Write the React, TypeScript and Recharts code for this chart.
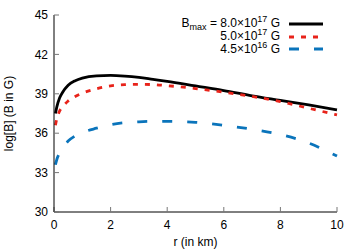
import { LineChart, Line, XAxis, YAxis, Legend, Label } from "recharts";

// radius in km
const radius = [0.05, 0.1, 0.2, 0.3, 0.5, 0.75, 1, 1.5, 2, 2.5, 3, 3.5, 4, 5, 6, 7, 8, 9, 10];

// log10 of field strength for each central B_max
const logB8e17 = [37.5, 38.0, 38.7, 39.1, 39.65, 40.0, 40.2, 40.37, 40.4, 40.35, 40.25, 40.1, 39.95, 39.6, 39.25, 38.85, 38.5, 38.15, 37.77];
const logB5e17 = [36.6, 37.1, 37.7, 38.0, 38.45, 38.8, 39.05, 39.38, 39.6, 39.7, 39.72, 39.7, 39.62, 39.4, 39.12, 38.8, 38.4, 37.9, 37.39];
const logB45e16 = [33.6, 34.0, 34.5, 34.85, 35.4, 35.8, 36.05, 36.38, 36.65, 36.8, 36.87, 36.9, 36.9, 36.83, 36.6, 36.3, 35.9, 35.25, 34.26];

const xTicks = [0, 2, 4, 6, 8, 10];
const yTicks = [30, 33, 36, 39, 42, 45];

const seriesMantissa = ["8.0", "5.0", "4.5"];
const seriesExponent = ["17", "17", "16"];
const seriesColor = ["#000000", "#e8231a", "#0a74bb"];
const seriesDash = ["", "5 7", "10 15"];

const data = radius.map((r, i) => ({
  r,
  a: logB8e17[i],
  b: logB5e17[i],
  c: logB45e16[i],
}));
const keys = ["a", "b", "c"];

const FONT = "'Liberation Sans', Arial, Helvetica, sans-serif";
const tickStyle = { fontSize: 12, fill: "#000", fontFamily: FONT };

function KeyBox() {
  return (
    <div style={{ fontFamily: FONT, fontSize: 12, color: "#000" }}>
      {seriesMantissa.map((m, i) => (
        <div key={i} style={{ display: "flex", alignItems: "center", height: 12.7 }}>
          <div style={{ width: 120, textAlign: "right", lineHeight: "12px", whiteSpace: "nowrap" }}>
            {i === 0 && (
              <>
                B
                <span style={{ fontSize: 9, position: "relative", top: 3 }}>max</span>
                {" = "}
              </>
            )}
            {m}×10
            <span style={{ fontSize: 9, position: "relative", top: -5 }}>{seriesExponent[i]}</span> G
          </div>
          <svg width={43} height={8} style={{ display: "block" }}>
            <line
              x1={9}
              x2={43}
              y1={4}
              y2={4}
              stroke={seriesColor[i]}
              strokeWidth={2.8}
              strokeDasharray={seriesDash[i] || undefined}
            />
          </svg>
        </div>
      ))}
    </div>
  );
}

export default function App() {
  return (
    <div style={{ position: "absolute", left: 0, top: 0, background: "#fff" }}>
      <LineChart width={360} height={252} data={data} margin={{ top: 15, right: 23, bottom: 0, left: 0 }}>
        <XAxis
          dataKey="r"
          type="number"
          domain={[0, 10]}
          ticks={xTicks}
          height={40}
          stroke="#000"
          tickSize={-5}
          tickMargin={13}
          tick={tickStyle}
          tickLine={{ stroke: "#777" }}
        >
          <Label
            content={(p: any) => (
              <text
                x={p.viewBox.x + p.viewBox.width / 2}
                y={p.viewBox.y + 34}
                textAnchor="middle"
                fontSize={12}
                fontFamily={FONT}
                fill="#000"
              >
                r (in km)
              </text>
            )}
          />
        </XAxis>
        <XAxis
          xAxisId="top"
          dataKey="r"
          type="number"
          orientation="top"
          domain={[0, 10]}
          ticks={xTicks}
          height={0}
          stroke="#000"
          tickSize={-5}
          tickFormatter={() => ""}
          tickLine={{ stroke: "#777" }}
        />
        <YAxis
          domain={[30, 45]}
          ticks={yTicks}
          width={54}
          stroke="#000"
          tickSize={-5}
          tickMargin={11}
          tick={tickStyle}
          tickLine={{ stroke: "#777" }}
        >
          <Label
            content={(p: any) => {
              const x = p.viewBox.x + 13;
              const y = p.viewBox.y + p.viewBox.height / 2;
              return (
                <text
                  x={x}
                  y={y}
                  transform={`rotate(-90, ${x}, ${y})`}
                  textAnchor="middle"
                  fontSize={12}
                  fontFamily={FONT}
                  fill="#000"
                >
                  log[B] (B in G)
                </text>
              );
            }}
          />
        </YAxis>
        <YAxis
          yAxisId="right"
          orientation="right"
          domain={[30, 45]}
          ticks={yTicks}
          width={0}
          stroke="#000"
          tickSize={-5}
          tickFormatter={() => ""}
          tickLine={{ stroke: "#777" }}
        />
        <Legend
          layout="horizontal"
          verticalAlign="middle"
          content={() => <KeyBox />}
          wrapperStyle={{ top: 17.5, left: 160, width: 170 }}
        />
        {keys.map((k, i) => (
          <Line
            key={k}
            dataKey={k}
            type="monotone"
            stroke={seriesColor[i]}
            strokeWidth={2.8}
            strokeDasharray={seriesDash[i] || undefined}
            dot={false}
            activeDot={false}
            isAnimationActive={false}
          />
        ))}
      </LineChart>
    </div>
  );
}
